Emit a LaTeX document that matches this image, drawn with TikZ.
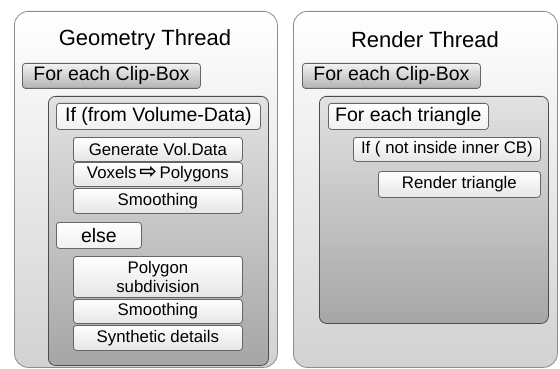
\documentclass[tikz,border=0pt]{standalone}
\usepackage{fontspec}
\setmainfont{Liberation Sans}
\newfontfamily\symfont{DejaVu Sans Bold}
\usetikzlibrary{positioning}
\definecolor{panelbot}{HTML}{D2D2D2}
\definecolor{innertop}{HTML}{E2E2E2}
\definecolor{innerbot}{HTML}{A6A6A6}
\newcommand{\titlesize}{\fontsize{22}{26}\selectfont}
\newcommand{\midsize}{\fontsize{19.5}{22}\selectfont}
\newcommand{\smallsize}{\fontsize{16.8}{19.5}\selectfont}
\newcommand{\toarrow}{\,{\symfont\fontsize{21}{21}\selectfont ⇨}\,}

\begin{document}
\begin{tikzpicture}[x=1pt, y=-1pt,
  panel/.style={rectangle, anchor=north west, inner sep=0pt, rounded corners=14pt,
                draw=black!45, line width=0.8pt, top color=white, bottom color=panelbot},
  frame/.style={rectangle, anchor=north west, inner sep=0pt, rounded corners=7pt,
                draw=black!70, line width=0.8pt, top color=innertop, bottom color=innerbot},
  loopbox/.style={rectangle, anchor=north west, inner sep=0pt, rounded corners=3pt,
                  draw=black!60, line width=0.8pt, top color=black!5, bottom color=black!30,
                  font=\midsize},
  condbox/.style={rectangle, anchor=north west, inner sep=0pt, rounded corners=3pt,
                  draw=black!60, line width=0.8pt, top color=white, bottom color=black!6,
                  font=\midsize},
  stepbox/.style={rectangle, anchor=north west, inner sep=0pt, rounded corners=3pt,
                  draw=black!60, line width=0.8pt, top color=white, bottom color=black!10,
                  font=\smallsize, align=center},
  ttl/.style={font=\titlesize},
]
\useasboundingbox (0,0) rectangle (560,369);

% geometry thread
\node[panel, minimum width=263pt, minimum height=356pt] (gpanel) at (14,11) {};
\node[ttl] (gtitle) at (145,40) {Geometry Thread};
\node[loopbox, minimum width=178pt, minimum height=25pt] (gclip) at (22,63) {For each Clip-Box};
\node[frame, minimum width=220pt, minimum height=269pt] (gframe) at (48,96) {};
\node[condbox, minimum width=204pt, minimum height=26pt] (gif) at (56,103) {If (from Volume-Data)};
\node[stepbox, minimum width=169pt, minimum height=24pt] (gen) at (73,137) {Generate Vol.Data};
\node[stepbox, minimum width=169pt, minimum height=24pt] (vox) at (73,162) {Voxels\toarrow Polygons};
\node[stepbox, minimum width=169pt, minimum height=25pt] (smootha) at (73,188) {Smoothing};
\node[condbox, minimum width=85pt, minimum height=26pt] (gelse) at (56,222) {else};
\node[stepbox, minimum width=169pt, minimum height=41pt] (subdiv) at (73,256) {Polygon\\ subdivision};
\node[stepbox, minimum width=169pt, minimum height=24pt] (smoothb) at (73,299) {Smoothing};
\node[stepbox, minimum width=169pt, minimum height=25pt] (synth) at (73,325) {Synthetic details};

% render thread
\node[panel, minimum width=264pt, minimum height=356pt] (rpanel) at (293,11) {};
\node[ttl] (rtitle) at (425,40) {Render Thread};
\node[loopbox, minimum width=178pt, minimum height=25pt] (rclip) at (302,63) {For each Clip-Box};
\node[frame, minimum width=229pt, minimum height=227pt] (rframe) at (319,96) {};
\node[condbox, minimum width=160pt, minimum height=26pt] (tri) at (328,103) {For each triangle};
\node[stepbox, minimum width=187pt, minimum height=24pt] (rif) at (353,137) {If ( not inside inner CB)};
\node[stepbox, minimum width=162pt, minimum height=26pt] (rtri) at (378,171) {Render triangle};
\end{tikzpicture}
\end{document}
